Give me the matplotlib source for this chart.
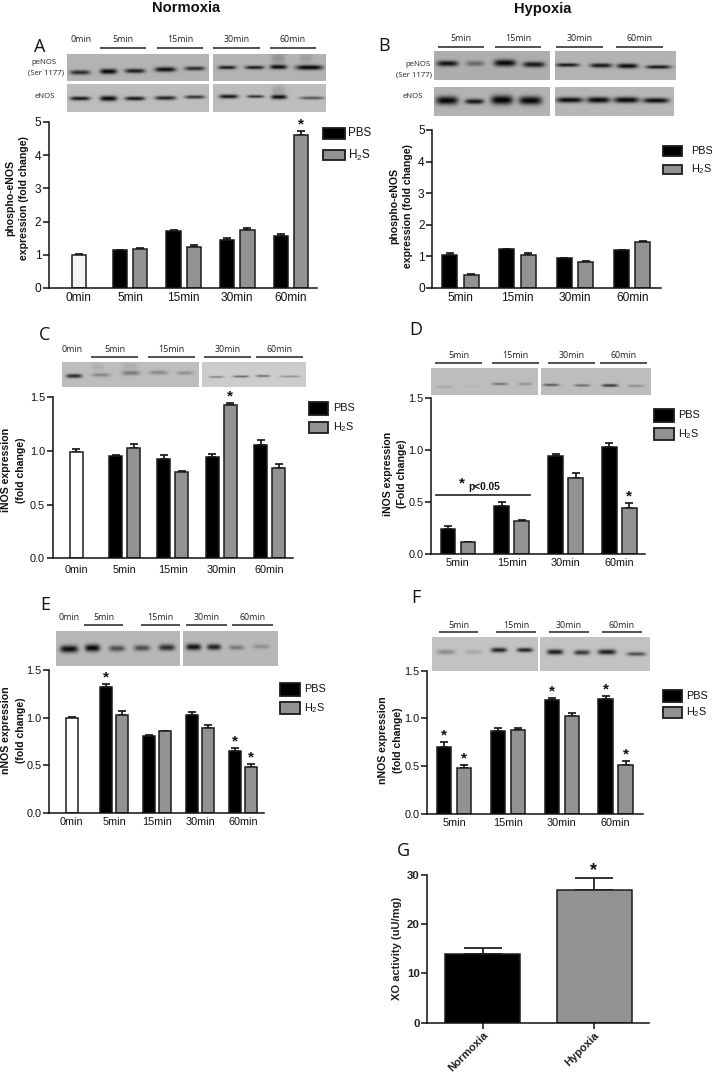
import numpy as np
import matplotlib
matplotlib.use("Agg")
import matplotlib.pyplot as plt
from matplotlib.patches import Rectangle
from matplotlib.transforms import ScaledTranslation

plt.rcParams['font.family'] = ['Liberation Sans', 'DejaVu Sans']
plt.rcParams['mathtext.default'] = 'regular'

W, H = 712, 1072
BLACK, GREY, EDGE = '#000000', '#929292', '#1c1c1c'
H2S = r'H$_2$S'

# ---------- data ----------
paired_time = ['5min', '15min', '30min', '60min']

a_ctrl, a_ctrl_err = 1.0, 0.03
a_pbs = [1.13, 1.73, 1.45, 1.58]
a_pbs_err = [0.02, 0.03, 0.05, 0.06]
a_h2s = [1.18, 1.23, 1.74, 4.60]
a_h2s_err = [0.03, 0.06, 0.07, 0.13]

b_pbs = [1.06, 1.22, 0.94, 1.19]
b_pbs_err = [0.04, 0.02, 0.02, 0.02]
b_h2s = [0.42, 1.06, 0.82, 1.45]
b_h2s_err = [0.01, 0.05, 0.03, 0.03]

c_ctrl, c_ctrl_err = 0.995, 0.025
c_pbs = [0.955, 0.925, 0.945, 1.055]
c_pbs_err = [0.005, 0.035, 0.03, 0.05]
c_h2s = [1.03, 0.805, 1.43, 0.845]
c_h2s_err = [0.035, 0.01, 0.02, 0.03]

d_pbs = [0.235, 0.455, 0.935, 1.025]
d_pbs_err = [0.03, 0.04, 0.02, 0.04]
d_h2s = [0.11, 0.31, 0.73, 0.44]
d_h2s_err = [0.005, 0.01, 0.045, 0.05]

e_ctrl, e_ctrl_err = 0.995, 0.01
e_pbs = [1.32, 0.805, 1.03, 0.655]
e_pbs_err = [0.03, 0.01, 0.03, 0.03]
e_h2s = [1.03, 0.855, 0.895, 0.485]
e_h2s_err = [0.035, 0.01, 0.03, 0.03]

f_pbs = [0.70, 0.87, 1.195, 1.205]
f_pbs_err = [0.05, 0.025, 0.02, 0.03]
f_h2s = [0.48, 0.875, 1.03, 0.51]
f_h2s_err = [0.035, 0.02, 0.03, 0.05]

g_labels = ['Normoxia', 'Hypoxia']
g_values = [13.9, 27.0]
g_err = [1.2, 2.3]

# ---------- figure ----------
fig = plt.figure(figsize=(W / 100, H / 100), dpi=100, facecolor='white')
ov = fig.add_axes([0, 0, 1, 1], zorder=0)


def finish_overlay():
    ov.set_xlim(0, W)
    ov.set_ylim(H, 0)
    ov.axis('off')


def blot(x0, x1, y0, y1, bg, bands):
    """Synthetic western-blot strip: bands are (x0, x1, y, half-height, darkness)."""
    xs = np.linspace(x0, x1, int((x1 - x0) * 3))
    ys = np.linspace(y0, y1, int((y1 - y0) * 3))
    X, Y = np.meshgrid(xs, ys)
    img = np.full(X.shape, bg, dtype=float)
    for bx0, bx1, by, bh, dark in bands:
        cx, hw = (bx0 + bx1) / 2, (bx1 - bx0) / 2
        img -= dark * np.exp(-((X - cx) / hw) ** 4) * np.exp(-((Y - by) / bh) ** 2)
    ov.imshow(np.clip(img, 0, 1), extent=(x0, x1, y1, y0), cmap='gray', vmin=0, vmax=1,
              aspect='auto', interpolation='bilinear', zorder=1)


def blot_label(text, x, y, size=6.4):
    ov.text(x, y, text, family=['Open Sans', 'DejaVu Sans'], fontsize=size, ha='center',
            va='center', color='#222222', zorder=3)


def time_bars(spans, y, labels, label_y):
    for (x0, x1), lab in zip(spans, labels):
        ov.plot([x0, x1], [y, y], color='#222222', lw=1.1, solid_capstyle='butt', zorder=3)
        blot_label(lab, (x0 + x1) / 2, label_y)


def legend(x0, x1, boxes, text_x, size):
    for (y0, y1), fc, lab in zip(boxes, [BLACK, GREY], ['PBS', H2S]):
        ov.add_patch(Rectangle((x0, y0), x1 - x0, y1 - y0, fc=fc, ec=EDGE, lw=1.3, zorder=3))
        ov.text(text_x, (y0 + y1) / 2, lab, fontsize=size, ha='left', va='center',
                color='#111111', zorder=3)


def panel_axes(x_left, x_right, y_bottom, y_top, ymax, first_px, step):
    ax = fig.add_axes([x_left / W, 1 - y_bottom / H, (x_right - x_left) / W, (y_bottom - y_top) / H],
                      zorder=2)
    ax.patch.set_alpha(0)
    ax.set_xlim((x_left - first_px) / step, (x_right - first_px) / step)
    ax.set_ylim(0, ymax)
    for s in ('top', 'right'):
        ax.spines[s].set_visible(False)
    for s in ('left', 'bottom'):
        ax.spines[s].set_linewidth(1.1)
        ax.spines[s].set_color('#111111')
    return ax


def draw_bar(ax, x, val, err, width, fc, cap=3.2, lw=1.1):
    ax.bar(x, val, width, color=fc, edgecolor=EDGE, linewidth=lw, zorder=2)
    ax.errorbar(x, val, yerr=[[0], [err]], color='#111111', capsize=cap, capthick=1.2,
                elinewidth=1.2, zorder=1)


def star(ax, x, top, dy=6.5, size=11):
    ax.annotate('*', (x, top), xytext=(0, dy), textcoords='offset pixels', ha='center',
                va='center', fontsize=size, fontweight='bold', color='#111111',
                annotation_clip=False)


def paired(ax, start, pbs, pbs_err, h2s, h2s_err, inner, width, labels, tick_size, yticks,
           yfmt, ylab, ylab_y, ylab_size, stars_pbs=(), stars_h2s=(), ctrl=None, xpad=3):
    idx = np.arange(len(pbs)) + start
    for i, x in enumerate(idx):
        draw_bar(ax, x - inner / 2, pbs[i], pbs_err[i], width, BLACK)
        draw_bar(ax, x + inner / 2, h2s[i], h2s_err[i], width, GREY)
        if i in stars_pbs:
            star(ax, x - inner / 2, pbs[i] + pbs_err[i])
        if i in stars_h2s:
            star(ax, x + inner / 2, h2s[i] + h2s_err[i])
    ticks = list(idx)
    if ctrl is not None:
        cx, cv, ce, cfc = ctrl
        draw_bar(ax, cx, cv, ce, width, cfc)
        ticks = [cx] + ticks
    ax.set_xticks(ticks)
    ax.set_xticklabels(labels, fontsize=tick_size, color='#111111')
    ax.tick_params(axis='x', length=0, pad=xpad)
    ax.set_yticks(yticks)
    ax.set_yticklabels([yfmt.format(t) for t in yticks], fontsize=tick_size, color='#111111')
    ax.tick_params(axis='y', length=4, width=1.1, pad=1.5, color='#111111')
    for text, x in ylab:
        ov.text(x, ylab_y, text, rotation=90, ha='center', va='center', fontsize=ylab_size,
                fontweight='bold', color='#111111', zorder=3)


# ---------- titles ----------
ov.text(186, 8.5, 'Normoxia', fontsize=10.6, fontweight='bold', ha='center', va='center', color='#111111')
ov.text(543, 8.5, 'Hypoxia', fontsize=10.6, fontweight='bold', ha='center', va='center', color='#111111')
letter_font = ['Open Sans', 'DejaVu Sans']
for t, x, y in [('A', 40, 47), ('B', 384, 46), ('C', 45, 335), ('D', 416, 330),
                ('E', 45, 605), ('F', 416, 598), ('G', 403, 851)]:
    ov.text(x, y, t, family=letter_font, fontsize=13, ha='center', va='center', color='#111111')

# ---------- panel A ----------
blot(67, 209, 54, 81, 0.70, [(70, 90, 72.5, 2.2, .55), (100, 117, 71.5, 2.6, .68), (125, 145, 71, 2.2, .6),
                             (155, 176, 69.5, 2.4, .66), (185, 205, 68.5, 2, .55)])
blot(213, 326, 54, 81, 0.70, [(218, 236, 67.5, 1.8, .6), (245, 264, 67.5, 1.8, .6), (270, 287, 67, 2.2, .66),
                              (296, 323, 67.5, 2.4, .68), (272, 285, 58, 6, .12), (300, 312, 58, 5, .08)])
blot(67, 209, 84, 112, 0.74, [(70, 90, 98.5, 2, .66), (100, 117, 98.5, 2.6, .72), (125, 145, 98.5, 2, .66),
                              (155, 176, 98, 2, .62), (185, 205, 97, 1.7, .55)])
blot(213, 326, 84, 112, 0.74, [(219, 238, 96.5, 2, .66), (247, 264, 96.5, 1.5, .55), (271, 287, 97, 2.2, .68),
                               (300, 324, 98, 1.5, .42), (272, 285, 90, 5, .1)])
time_bars([(100, 146), (157, 203), (213, 260), (270, 316)], 47.5, paired_time, 40)
blot_label('0min', 81, 40)
blot_label('peNOS', 44, 62, 5.6)
blot_label('(Ser 1177)', 46, 72.5, 5.6)
blot_label('eNOS', 45, 96, 5.6)
ax = panel_axes(49, 317, 288, 122, 5, 76.3, 53.67)
paired(ax, 1, a_pbs, a_pbs_err, a_h2s, a_h2s_err, 20.2 / 53.67, 14.3 / 53.67,
       ['0min'] + paired_time, 8.6, [0, 1, 2, 3, 4, 5], '{:d}',
       [('phospho-eNOS', 10), ('expression (fold change)', 24)], 198, 7.6,
       stars_h2s=[3], ctrl=(0.045, a_ctrl, a_ctrl_err, '#f2f2f2'))
legend(323, 344.5, [(128, 139), (150, 160)], 348, 8.4)

# ---------- panel B ----------
blot(434, 550, 51, 80, 0.68, [(437, 458, 63.5, 2.8, .62), (466, 484, 63.5, 2.6, .28), (494, 516, 63, 3.4, .66),
                              (523, 545, 64.5, 2.8, .6)])
blot(555, 676, 51, 80, 0.70, [(556, 579, 65, 1.8, .62), (590, 612, 65.5, 2.2, .62), (617, 638, 66, 2.4, .66),
                              (646, 671, 67, 1.8, .62)])
blot(434, 550, 87, 116, 0.70, [(436, 458, 100.5, 4.2, .68), (465, 484, 101.5, 2.6, .62), (491, 513, 100, 4.6, .7),
                               (519, 542, 100.5, 4.2, .68)])
blot(555, 674, 87, 116, 0.72, [(556, 583, 100, 2.8, .68), (587, 610, 100, 3, .7), (614, 639, 100, 3, .7),
                               (643, 669, 100.5, 2.6, .68)])
time_bars([(438, 484), (495, 541), (556, 603), (616, 663)], 46.5, paired_time, 38.5)
blot_label('peNOS', 418, 64, 5.6)
blot_label('(Ser 1177)', 414, 74.5, 5.6)
blot_label('eNOS', 413, 97, 5.6)
ax = panel_axes(432.3, 661, 288, 130, 5, 460.3, 57.3)
paired(ax, 0, b_pbs, b_pbs_err, b_h2s, b_h2s_err, 21.4 / 57.3, 15 / 57.3,
       paired_time, 8.6, [0, 1, 2, 3, 4, 5], '{:d}',
       [('phospho-eNOS', 394), ('expression (fold change)', 408)], 206, 7.6)
legend(663, 682, [(146, 156), (165, 174)], 691, 7.8)

# ---------- panel C ----------
blot(62, 199, 362, 387, 0.74, [(66, 82, 376, 2, .58), (92, 110, 375, 1.8, .22), (122, 140, 373, 2.2, .26),
                               (149, 168, 372.5, 2, .2), (177, 193, 373, 1.8, .18), (92, 104, 367, 4, .05),
                               (122, 138, 366, 4, .05)])
blot(202, 306, 362, 387, 0.80, [(209, 224, 377, .9, .32), (233, 249, 376.5, 1, .42), (256, 270, 376, 1, .42),
                                (280, 300, 376.5, .9, .26)])
time_bars([(91, 138), (148, 195), (204, 251), (256, 303)], 356.7, paired_time, 349)
blot_label('0min', 72, 349)
ax = panel_axes(52.7, 293, 558.3, 397.3, 1.5, 76.3, 48.3)
paired(ax, 1, c_pbs, c_pbs_err, c_h2s, c_h2s_err, 18 / 48.3, 13 / 48.3,
       ['0min'] + paired_time, 7.8, [0, .5, 1, 1.5], '{:.1f}',
       [('iNOS expression', 6), ('(fold change)', 21)], 470, 7.6,
       stars_h2s=[2], ctrl=(0, c_ctrl, c_ctrl_err, 'white'), xpad=4.5)
legend(309, 328, [(401.7, 415), (421.7, 433)], 333, 7.8)

# ---------- panel D ----------
blot(431, 538, 368, 395, 0.74, [(437, 452, 387, 1.2, .1), (465, 480, 386, 1, .04), (492, 508, 384, 1.2, .3),
                                (519, 532, 384, 1.2, .2)])
blot(541, 651, 368, 395, 0.74, [(543, 559, 385, 1.2, .42), (574, 590, 385.5, 1.2, .32), (602, 618, 385.5, 1.4, .55),
                                (628, 644, 386, 1.2, .2)])
time_bars([(435, 482), (492, 539), (548, 595), (600, 647)], 363, paired_time, 355)
ax = panel_axes(431, 645, 553.7, 397.7, 1.5, 457.7, 53.9)
paired(ax, 0, d_pbs, d_pbs_err, d_h2s, d_h2s_err, 20 / 53.9, 14.3 / 53.9,
       paired_time, 7.8, [0, .5, 1, 1.5], '{:.1f}',
       [('iNOS expression', 388), ('(Fold change)', 402)], 474, 7.6, stars_h2s=[3])
legend(653.7, 674, [(408.7, 421.7), (427.7, 440)], 678, 7.8)
ov.plot([436, 530], [494.7, 494.7], color='#222222', lw=1.2, zorder=3)
ov.text(462, 483, '*', fontsize=11, fontweight='bold', ha='center', va='center', color='#111111', zorder=3)
ov.text(484, 487, 'p<0.05', fontsize=7.3, fontweight='bold', ha='center', va='center', color='#111111', zorder=3)

# ---------- panel E ----------
blot(56, 180, 631, 666, 0.72, [(60, 78, 649, 3.6, .68), (85, 100, 648, 3.6, .7), (109, 125, 648.5, 3, .42),
                               (134, 150, 648, 3, .42), (159, 175, 647.5, 3.2, .55)])
blot(183, 278, 631, 666, 0.72, [(186, 201, 647, 3.2, .65), (207, 221, 647, 3, .6), (229, 244, 647.5, 2.4, .25),
                                (253, 270, 646.5, 2.2, .16)])
time_bars([(84, 123), (141, 180), (186, 227), (232, 273)], 625, paired_time, 617)
blot_label('0min', 69, 617)
ax = panel_axes(49.3, 264, 813, 670, 1.5, 71.2, 43)
paired(ax, 1, e_pbs, e_pbs_err, e_h2s, e_h2s_err, 16.3 / 43, 12 / 43,
       ['0min'] + paired_time, 7.8, [0, .5, 1, 1.5], '{:.1f}',
       [('nNOS expression', 6), ('(fold change)', 21)], 730, 7.6,
       stars_pbs=[0, 3], stars_h2s=[3], ctrl=(0.012, e_ctrl, e_ctrl_err, 'white'))
legend(280, 300, [(682.7, 695.7), (701.7, 714)], 304, 7.8)

# ---------- panel F ----------
blot(432, 538, 637, 671, 0.76, [(437, 455, 652, 2.4, .22), (465, 482, 652, 2.2, .1), (491, 507, 650, 2.4, .62),
                                (517, 533, 650, 2.2, .62)])
blot(540, 650, 637, 671, 0.76, [(547, 563, 652, 2.6, .66), (574, 590, 652.5, 2.4, .55), (598, 616, 652, 2.6, .66),
                                (627, 646, 654, 2, .45)])
time_bars([(439, 478), (496, 536), (549, 589), (602, 642)], 632, paired_time, 625)
ax = panel_axes(427.3, 642.7, 814, 670.7, 1.5, 454, 53.9)
paired(ax, 0, f_pbs, f_pbs_err, f_h2s, f_h2s_err, 20 / 53.9, 14.5 / 53.9,
       paired_time, 7.8, [0, .5, 1, 1.5], '{:.1f}',
       [('nNOS expression', 383), ('(fold change)', 398)], 740, 7.6,
       stars_pbs=[0, 2, 3], stars_h2s=[0, 3])
legend(663, 682, [(689.7, 701.7), (707, 718)], 686, 7.8)

# ---------- panel G ----------
ax = panel_axes(427.3, 649, 1022.7, 874.7, 30, 482.7, 111.3)
for i, (v, e, fc) in enumerate(zip(g_values, g_err, [BLACK, GREY])):
    draw_bar(ax, i, v, e, 75 / 111.3, fc, cap=14)
star(ax, 1, g_values[1] + g_err[1], dy=8, size=13)
ax.set_xticks(range(len(g_labels)))
ax.set_xticklabels(g_labels, rotation=45, ha='right', rotation_mode='anchor', fontsize=8,
                   fontweight='bold', color='#222222')
shift = ScaledTranslation(-4 / 100, 0, fig.dpi_scale_trans)
for lab in ax.get_xticklabels():
    lab.set_transform(lab.get_transform() + shift)
ax.set_yticks([0, 10, 20, 30])
ax.set_yticklabels(['0', '10', '20', '30'], fontsize=8.2, fontweight='bold', color='#222222')
ax.tick_params(axis='both', length=4, width=1.1, pad=1.5, color='#111111')
ov.text(397, 948, 'XO activity (uU/mg)', rotation=90, ha='center', va='center', fontsize=8,
        fontweight='bold', color='#222222', zorder=3)

finish_overlay()
fig.savefig('out.png', dpi=100, facecolor='white')
